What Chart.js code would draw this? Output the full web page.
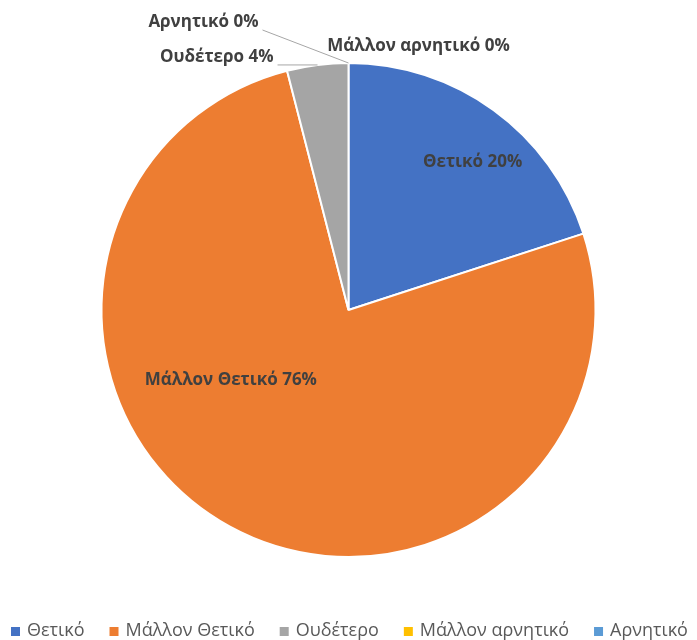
<!DOCTYPE html>
<html>
<head>
<meta charset="utf-8">
<script src="https://cdn.jsdelivr.net/npm/chart.js@4.4.1/dist/chart.umd.min.js"></script>
<style>
  html, body { margin: 0; padding: 0; background: #ffffff; }
  #wrap { position: relative; width: 697px; height: 640px; overflow: hidden; }
</style>
</head>
<body>
<div id="wrap"><canvas id="c" width="697" height="640"></canvas></div>
<script>
// Survey answers and their shares (%)
const categories = ['Θετικό', 'Μάλλον Θετικό', 'Ουδέτερο', 'Μάλλον αρνητικό', 'Αρνητικό'];
const shares = [20, 76, 4, 0, 0];
const sliceColors = ['#4472C4', '#ED7D31', '#A5A5A5', '#FFC000', '#5B9BD5'];

// Where each slice's label goes.
// inside: along = fraction of the slice's sweep, rf = fraction of the radius
// outside: text offset from the slice's edge point, optional leader line
const labelPlacement = [
  { mode: 'inside', along: 0.557, rf: 0.78 },
  { mode: 'inside', along: 0.611, rf: 0.555 },
  { mode: 'outside', dx: -44, dy: -8, align: 'right', leader: [[-40, 0]] },
  { mode: 'outside', dx: 70, dy: -17, align: 'center', leader: null },
  { mode: 'outside', dx: -90, dy: -41, align: 'right', leader: [[-86, -33]] }
];

const LABEL_FONT = 'bold 17px "Open Sans", "Noto Sans", sans-serif';
const LEGEND_FONT = '18px "Open Sans", "Noto Sans", sans-serif';

const sliceLabels = {
  id: 'sliceLabels',
  afterDatasetsDraw(chart) {
    const ctx = chart.ctx;
    const meta = chart.getDatasetMeta(0);
    ctx.save();
    ctx.font = LABEL_FONT;
    ctx.fillStyle = '#404040';
    ctx.textBaseline = 'middle';
    meta.data.forEach((arc, i) => {
      const p = labelPlacement[i];
      const { x, y, startAngle, endAngle, outerRadius } = arc.getProps(['x', 'y', 'startAngle', 'endAngle', 'outerRadius'], true);
      const text = categories[i] + ' ' + shares[i] + '%';
      if (p.mode === 'inside') {
        const a = startAngle + (endAngle - startAngle) * p.along;
        const r = outerRadius * p.rf;
        ctx.textAlign = 'center';
        ctx.fillText(text, x + r * Math.cos(a), y + r * Math.sin(a));
      } else {
        const a = (startAngle + endAngle) / 2;
        const ax = x + outerRadius * Math.cos(a);
        const ay = y + outerRadius * Math.sin(a);
        if (p.leader) {
          ctx.beginPath();
          ctx.strokeStyle = '#A6A6A6';
          ctx.lineWidth = 1;
          ctx.moveTo(ax, ay);
          p.leader.forEach(([lx, ly]) => ctx.lineTo(ax + lx, ay + ly));
          ctx.stroke();
        }
        ctx.textAlign = p.align;
        ctx.fillText(text, ax + p.dx, ay + p.dy);
      }
    });
    ctx.restore();
  }
};

// Legend row along the bottom, laid out in one line
const bottomLegend = {
  id: 'bottomLegend',
  afterDraw(chart) {
    const ctx = chart.ctx;
    ctx.save();
    ctx.font = LEGEND_FONT;
    ctx.textBaseline = 'middle';
    ctx.textAlign = 'left';
    const y = 631;
    let x = 11;
    chart.data.labels.forEach((lab, i) => {
      ctx.fillStyle = chart.data.datasets[0].backgroundColor[i];
      ctx.fillRect(x, y - 4, 9, 9);
      x += 16;
      ctx.fillStyle = '#595959';
      ctx.fillText(lab, x, y);
      x += ctx.measureText(lab).width + 25;
    });
    ctx.restore();
  }
};

new Chart(document.getElementById('c'), {
  type: 'pie',
  data: {
    labels: categories,
    datasets: [{
      data: shares,
      backgroundColor: sliceColors,
      borderColor: '#ffffff',
      borderWidth: 2
    }]
  },
  options: {
    responsive: false,
    animation: false,
    layout: { padding: { top: 62, bottom: 82, left: 0, right: 0 } },
    plugins: {
      legend: { display: false },
      tooltip: { enabled: false },
      title: { display: false }
    }
  },
  plugins: [sliceLabels, bottomLegend]
});
</script>
</body>
</html>
